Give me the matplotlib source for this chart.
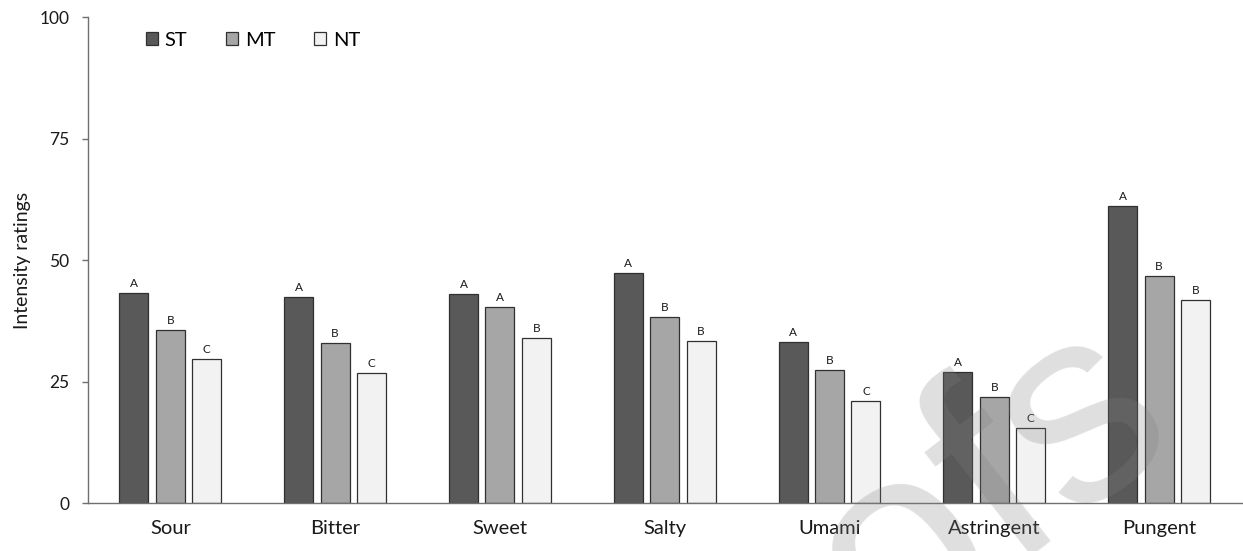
import numpy as np
import matplotlib
matplotlib.use('Agg')
import matplotlib.pyplot as plt
from matplotlib.patches import Patch

plt.rcParams['font.family'] = ['Lato', 'DejaVu Sans']

tastes = ['Sour', 'Bitter', 'Sweet', 'Salty', 'Umami', 'Astringent', 'Pungent']
st = [43.3, 42.5, 43.0, 47.3, 33.1, 27.0, 61.2]
mt = [35.6, 32.9, 40.3, 38.3, 27.4, 21.9, 46.7]
nt = [29.6, 26.8, 34.0, 33.4, 21.0, 15.4, 41.8]
st_grp = ['A', 'A', 'A', 'A', 'A', 'A', 'A']
mt_grp = ['B', 'B', 'A', 'B', 'B', 'B', 'B']
nt_grp = ['C', 'C', 'B', 'B', 'C', 'C', 'B']

series = [('ST', st, st_grp, '#595959'),
          ('MT', mt, mt_grp, '#a6a6a6'),
          ('NT', nt, nt_grp, '#f2f2f2')]

fig = plt.figure(figsize=(12.43, 5.51), dpi=100)
ax = fig.add_axes([0.0708, 0.0866, 0.928, 0.882])

x = np.arange(len(tastes))
w = 0.176
step = 0.221
for i, (name, vals, grp, col) in enumerate(series):
    pos = x + (i - 1) * step
    ax.bar(pos, vals, width=w, color=col, edgecolor='#303030', linewidth=0.9, zorder=2)
    for p, v, g in zip(pos, vals, grp):
        ax.annotate(g, (p, v), xytext=(0, 3), textcoords='offset points',
                    ha='center', va='bottom', fontsize=8.5, color='#1a1a1a')

ax.set_xlim(-0.5, len(tastes) - 0.5)
ax.set_ylim(0, 100)
ax.set_yticks([0, 25, 50, 75, 100])
ax.set_xticks(x)
ax.set_xticklabels(tastes, fontsize=14.5)
ax.tick_params(axis='x', length=0, pad=12, colors='#1a1a1a')
ax.tick_params(axis='y', length=4.3, width=1, color='#707070', pad=9,
               labelsize=12.5, labelcolor='#1a1a1a')
for s in ['top', 'right']:
    ax.spines[s].set_visible(False)
for s in ['left', 'bottom']:
    ax.spines[s].set_color('#707070')
    ax.spines[s].set_linewidth(1)
ax.set_ylabel('Intensity ratings', fontsize=14, color='#1a1a1a', labelpad=6)

handles = [Patch(facecolor=c, edgecolor='#303030', linewidth=0.9, label=n)
           for n, _, _, c in series]
ax.legend(handles=handles, loc='center left', bbox_to_anchor=(0.05, 0.953),
          ncol=3, frameon=False, fontsize=14.5, handlelength=0.6, handleheight=0.6,
          handletextpad=0.35, columnspacing=1.9, borderaxespad=0, borderpad=0)

# watermark
fig.text(0.913, 0.327, 'proofs', fontsize=200, color='gray', alpha=0.25,
         family='Liberation Sans', rotation=38, rotation_mode='anchor',
         ha='right', va='center', zorder=10)

fig.savefig('out.png', dpi=100)
